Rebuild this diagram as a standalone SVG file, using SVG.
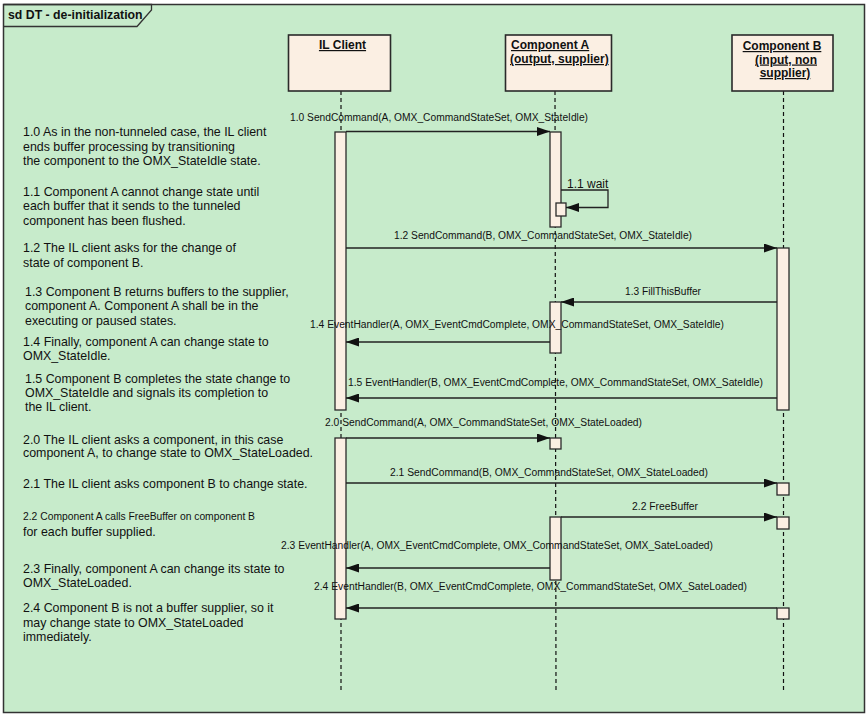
<svg xmlns="http://www.w3.org/2000/svg" width="867" height="716" viewBox="0 0 867 716">
<defs>
<style>
.frame{fill:#C7EBCB;stroke:#333;stroke-width:1.5}
.tab{fill:none;stroke:#333;stroke-width:1.3}
.head{fill:#FBEFE3;stroke:#2a2a2a;stroke-width:1.6}
.act{fill:#FBEFE3;stroke:#2a2a2a;stroke-width:1.3}
.life{stroke:#111;stroke-width:1.2;stroke-dasharray:4 3;fill:none}
.msg{stroke:#222;stroke-width:1.3;fill:none}
.ht{font-family:"Liberation Sans",Arial,sans-serif;font-size:12px;font-weight:bold;fill:#111;text-decoration:underline}
.note{font-family:"Liberation Sans",Arial,sans-serif;font-size:12.4px;fill:#111}
.wait{font-family:"Liberation Sans",Arial,sans-serif;font-size:12px;fill:#111}
.ml{font-family:"Liberation Sans",Arial,sans-serif;font-size:10px;fill:#111}
.title{font-family:"Liberation Sans",Arial,sans-serif;font-size:12.3px;font-weight:bold;fill:#111}
</style>
<marker id="arr" viewBox="0 0 13 9" refX="13" refY="4.5" markerWidth="13" markerHeight="9" markerUnits="userSpaceOnUse" orient="auto">
<path d="M0,0 L13,4.5 L0,9 Z" fill="#111"/>
</marker>
</defs>

<g id="frame">
<rect class="frame" x="3.5" y="4.5" width="861" height="708"/>
<path class="tab" d="M3.5,4.5 H151.5 V10 L137,26.5 H3.5"/>
<text class="title" x="8" y="18.5">sd DT - de-initialization</text>
</g>

<g id="lifelines">
<line class="life" x1="341" y1="91" x2="341" y2="692"/>
<line class="life" x1="555" y1="91" x2="556" y2="692"/>
<line class="life" x1="783.5" y1="91" x2="783.5" y2="692"/>
</g>

<g id="il-client">
<rect class="head" x="288.5" y="35" width="102" height="56"/>
<text class="ht" x="342.5" y="49" text-anchor="middle">IL Client</text>
</g>
<g id="component-a">
<rect class="head" x="505.5" y="35" width="106" height="56"/>
<text class="ht" x="511" y="49">Component A</text>
<text class="ht" x="510" y="63">(output, supplier)</text>
</g>
<g id="component-b">
<rect class="head" x="732" y="35" width="101" height="56"/>
<text class="ht" x="782" y="50" text-anchor="middle">Component B</text>
<text class="ht" x="786" y="63.5" text-anchor="middle">(input, non</text>
<text class="ht" x="785" y="77" text-anchor="middle">supplier)</text>
</g>

<g id="activations">
<rect class="act" x="335" y="132" width="11" height="278"/>
<rect class="act" x="335" y="438" width="11" height="181"/>
<rect class="act" x="550" y="132" width="11" height="95"/>
<rect class="act" x="556" y="203" width="10" height="13"/>
<rect class="act" x="550" y="302" width="11" height="51"/>
<rect class="act" x="550" y="438" width="11" height="11"/>
<rect class="act" x="550" y="517" width="11" height="63"/>
<rect class="act" x="777" y="248" width="12" height="162"/>
<rect class="act" x="777" y="483" width="12" height="12"/>
<rect class="act" x="777" y="517" width="12" height="12"/>
<rect class="act" x="777" y="608" width="12" height="11"/>
</g>

<g id="connectors">
<line class="msg" x1="346" y1="131.5" x2="550" y2="131.5" marker-end="url(#arr)"/>
<polyline class="msg" points="561,190 608,190 608,207.5 566,207.5" marker-end="url(#arr)"/>
<line class="msg" x1="346" y1="248" x2="777" y2="248" marker-end="url(#arr)"/>
<line class="msg" x1="777" y1="302" x2="561" y2="302" marker-end="url(#arr)"/>
<line class="msg" x1="550" y1="342" x2="346" y2="342" marker-end="url(#arr)"/>
<line class="msg" x1="777" y1="398" x2="346" y2="398" marker-end="url(#arr)"/>
<line class="msg" x1="346" y1="438" x2="550" y2="438" marker-end="url(#arr)"/>
<line class="msg" x1="346" y1="483" x2="777" y2="483" marker-end="url(#arr)"/>
<line class="msg" x1="561" y1="517" x2="777" y2="517" marker-end="url(#arr)"/>
<line class="msg" x1="550" y1="568" x2="346" y2="568" marker-end="url(#arr)"/>
<line class="msg" x1="777" y1="608" x2="346" y2="608" marker-end="url(#arr)"/>
</g>

<g id="message-labels">
<text class="ml" x="290" y="121" textLength="298" lengthAdjust="spacingAndGlyphs">1.0 SendCommand(A, OMX_CommandStateSet, OMX_StateIdle)</text>
<text class="wait" x="567" y="187.5">1.1 wait</text>
<text class="ml" x="394" y="239" textLength="298" lengthAdjust="spacingAndGlyphs">1.2 SendCommand(B, OMX_CommandStateSet, OMX_StateIdle)</text>
<text class="ml" x="625" y="295" textLength="76" lengthAdjust="spacingAndGlyphs">1.3 FillThisBuffer</text>
<text class="ml" x="310" y="328" textLength="414" lengthAdjust="spacingAndGlyphs">1.4 EventHandler(A, OMX_EventCmdComplete, OMX_CommandStateSet, OMX_SateIdle)</text>
<text class="ml" x="348" y="386" textLength="415" lengthAdjust="spacingAndGlyphs">1.5 EventHandler(B, OMX_EventCmdComplete, OMX_CommandStateSet, OMX_SateIdle)</text>
<text class="ml" x="325" y="426" textLength="317" lengthAdjust="spacingAndGlyphs">2.0 SendCommand(A, OMX_CommandStateSet, OMX_StateLoaded)</text>
<text class="ml" x="390" y="476" textLength="318" lengthAdjust="spacingAndGlyphs">2.1 SendCommand(B, OMX_CommandStateSet, OMX_StateLoaded)</text>
<text class="ml" x="632" y="510" textLength="66" lengthAdjust="spacingAndGlyphs">2.2 FreeBuffer</text>
<text class="ml" x="281" y="549" textLength="432" lengthAdjust="spacingAndGlyphs">2.3 EventHandler(A, OMX_EventCmdComplete, OMX_CommandStateSet, OMX_SateLoaded)</text>
<text class="ml" x="314" y="590" textLength="433" lengthAdjust="spacingAndGlyphs">2.4 EventHandler(B, OMX_EventCmdComplete, OMX_CommandStateSet, OMX_SateLoaded)</text>
</g>

<g id="notes">
<text class="note" x="23" y="136">1.0 As in the non-tunneled case, the IL client</text>
<text class="note" x="23" y="150.5">ends buffer processing by transitioning</text>
<text class="note" x="23" y="165">the component to the OMX_StateIdle state.</text>
<text class="note" x="23" y="196">1.1 Component A cannot change state until</text>
<text class="note" x="23" y="210">each buffer that it sends to the tunneled</text>
<text class="note" x="23" y="224.5">component has been flushed.</text>
<text class="note" x="23" y="252">1.2 The IL client asks for the change of</text>
<text class="note" x="23" y="266.5">state of component B.</text>
<text class="note" x="25" y="296">1.3 Component B returns buffers to the supplier,</text>
<text class="note" x="25" y="310">component A. Component A shall be in the</text>
<text class="note" x="25" y="324.5">executing or paused states.</text>
<text class="note" x="23" y="346">1.4 Finally, component A can change state to</text>
<text class="note" x="23" y="360">OMX_StateIdle.</text>
<text class="note" x="25" y="383">1.5 Component B completes the state change to</text>
<text class="note" x="25" y="397">OMX_StateIdle and signals its completion to</text>
<text class="note" x="25" y="411">the IL client.</text>
<text class="note" x="23" y="443.5">2.0 The IL client asks a component, in this case</text>
<text class="note" x="23" y="457">component A, to change state to OMX_StateLoaded.</text>
<text class="note" x="23" y="488">2.1 The IL client asks component B to change state.</text>
<text class="ml" x="23" y="520" textLength="232" lengthAdjust="spacingAndGlyphs">2.2 Component A calls FreeBuffer on component B</text>
<text class="note" x="23" y="536">for each buffer supplied.</text>
<text class="note" x="23" y="572.5">2.3 Finally, component A can change its state to</text>
<text class="note" x="23" y="587">OMX_StateLoaded.</text>
<text class="note" x="23" y="612">2.4 Component B is not a buffer supplier, so it</text>
<text class="note" x="23" y="627">may change state to OMX_StateLoaded</text>
<text class="note" x="23" y="641">immediately.</text>
</g>
</svg>
